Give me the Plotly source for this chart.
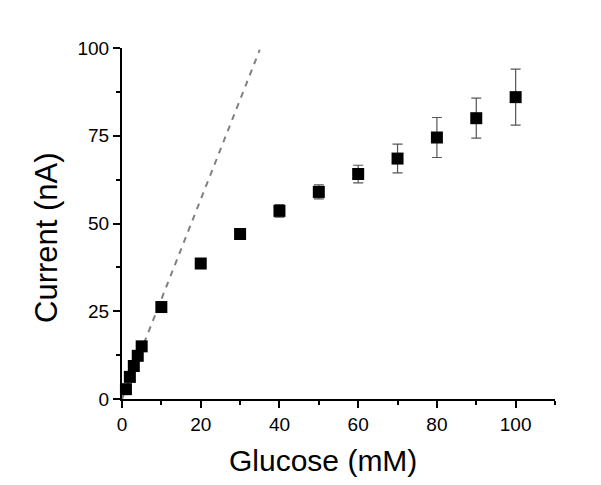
import plotly.graph_objects as go

glucose = [1, 2, 3, 4, 5, 10, 20, 30, 40, 50, 60, 70, 80, 90, 100]
current = [2.8, 6.3, 9.4, 12.3, 15.0, 26.2, 38.6, 47.0, 53.6, 59.0, 64.1, 68.5, 74.5, 80.0, 86.0]
error = [0.3, 0.4, 0.5, 0.6, 0.7, 0.8, 1.0, 1.5, 1.8, 2.0, 2.5, 4.1, 5.7, 5.7, 8.0]

fit_x = [0, 35]
fit_y = [0, 99.5]

font = "Liberation Sans, Arial, sans-serif"

fig = go.Figure()
fig.add_trace(go.Scatter(
    x=fit_x, y=fit_y, mode="lines",
    line=dict(color="#808080", width=2, dash="6px,6px"),
    hoverinfo="skip", showlegend=False,
))
fig.add_trace(go.Scatter(
    x=glucose, y=current, mode="markers",
    marker=dict(symbol="square", size=12, color="black"),
    error_y=dict(type="data", array=error, color="#555555", thickness=1.2, width=5),
    cliponaxis=False, showlegend=False,
))

axis_common = dict(
    showline=True, linecolor="black", linewidth=2,
    ticks="outside", tickcolor="black", tickwidth=2, ticklen=7,
    showgrid=False, zeroline=False,
    tickfont=dict(family=font, size=19, color="black"),
)

fig.update_layout(
    width=601, height=485,
    margin=dict(l=114, r=54, t=40, b=94),
    paper_bgcolor="white", plot_bgcolor="white",
    xaxis=dict(range=[0, 110], tickvals=[0, 20, 40, 60, 80, 100],
               minor=dict(tickvals=[10, 30, 50, 70, 90, 110], ticks="outside", ticklen=4, tickwidth=2, tickcolor="black"),
               **axis_common),
    yaxis=dict(range=[0, 100], tickvals=[0, 25, 50, 75, 100],
               minor=dict(tickvals=[12.5, 37.5, 62.5, 87.5], ticks="outside", ticklen=4, tickwidth=2, tickcolor="black"),
               **axis_common),
    annotations=[
        dict(text="Glucose (mM)", xref="paper", yref="paper", x=0.464, y=-0.1766,
             xanchor="center", yanchor="middle", showarrow=False,
             font=dict(family=font, size=30, color="black")),
        dict(text="Current (nA)", xref="paper", yref="paper", x=-0.173, y=0.459,
             xanchor="center", yanchor="middle", showarrow=False, textangle=-90,
             font=dict(family=font, size=31, color="black")),
    ],
)

fig.write_html("out.html")
